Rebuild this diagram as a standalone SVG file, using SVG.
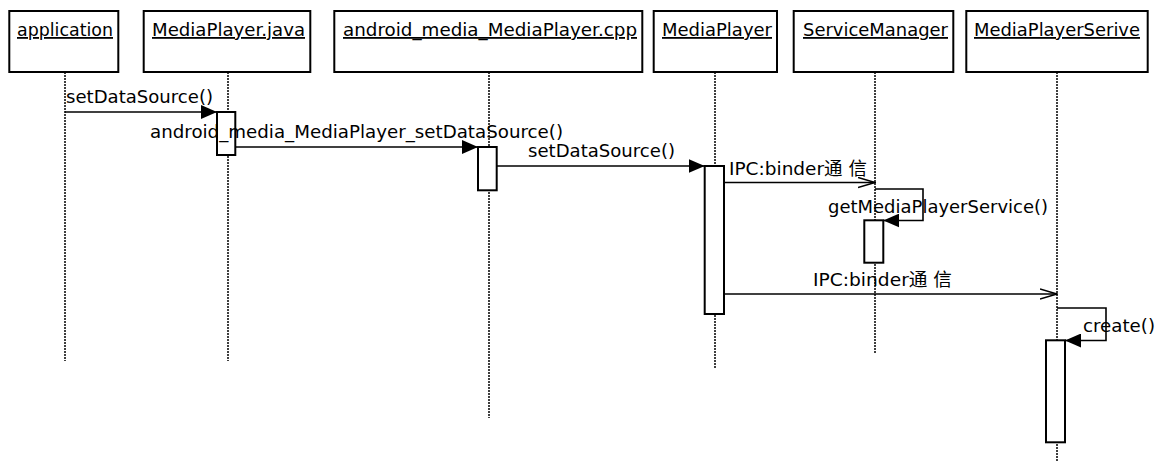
<svg xmlns="http://www.w3.org/2000/svg" width="1158" height="461" viewBox="0 0 1158 461">
<style>
text{font-family:"DejaVu Sans","Noto Sans CJK SC",sans-serif;font-size:18px;fill:#000}
.hdr{fill:#fff;stroke:#000;stroke-width:2}
.hdrt{text-decoration:underline}
.life{stroke:#000;stroke-width:1.5;stroke-dasharray:2 1;fill:none}
.act{fill:#fff;stroke:#000;stroke-width:2}
.msg{stroke:#000;stroke-width:1.6;fill:none}
</style>
<defs>
<marker id="filled" markerWidth="16" markerHeight="14" refX="16" refY="7" orient="auto" markerUnits="userSpaceOnUse">
<path d="M0,0 L16,7 L0,14 Z" fill="#000"/>
</marker>
<marker id="open" markerWidth="18" markerHeight="12" refX="17" refY="6" orient="auto" markerUnits="userSpaceOnUse">
<path d="M0,1 L17,6 L0,11" fill="none" stroke="#000" stroke-width="1.6"/>
</marker>
</defs>

<g id="lifelines">
<line class="life" x1="65" y1="72" x2="65" y2="361"/>
<line class="life" x1="228" y1="72" x2="228" y2="361"/>
<line class="life" x1="489" y1="72" x2="489" y2="418"/>
<line class="life" x1="715" y1="72" x2="715" y2="369"/>
<line class="life" x1="875" y1="72" x2="875" y2="353"/>
<line class="life" x1="1057" y1="72" x2="1057" y2="461"/>
</g>

<g id="application">
<rect class="hdr" x="9.3" y="11" width="109" height="61"/>
<text class="hdrt" x="17" y="36" textLength="96" lengthAdjust="spacingAndGlyphs">application</text>
</g>
<g id="MediaPlayerJava">
<rect class="hdr" x="143.7" y="11" width="166.6" height="61"/>
<text class="hdrt" x="152" y="36" textLength="153" lengthAdjust="spacingAndGlyphs">MediaPlayer.java</text>
<rect class="act" x="217" y="112" width="18.3" height="43"/>
</g>
<g id="androidMediaCpp">
<rect class="hdr" x="334.3" y="11" width="308" height="61"/>
<text class="hdrt" x="343" y="36" textLength="294" lengthAdjust="spacingAndGlyphs">android_media_MediaPlayer.cpp</text>
<rect class="act" x="478" y="147" width="18.7" height="43.3"/>
</g>
<g id="MediaPlayer">
<rect class="hdr" x="653.7" y="11" width="123.3" height="61"/>
<text class="hdrt" x="662" y="36" textLength="110" lengthAdjust="spacingAndGlyphs">MediaPlayer</text>
<rect class="act" x="704.7" y="166" width="19.3" height="148"/>
</g>
<g id="ServiceManager">
<rect class="hdr" x="793.7" y="11" width="159.6" height="61"/>
<text class="hdrt" x="803" y="36" textLength="145" lengthAdjust="spacingAndGlyphs">ServiceManager</text>
<rect class="act" x="864.3" y="220.3" width="19" height="42.4"/>
</g>
<g id="MediaPlayerSerive">
<rect class="hdr" x="966.3" y="11" width="181.4" height="61"/>
<text class="hdrt" x="974" y="36" textLength="166" lengthAdjust="spacingAndGlyphs">MediaPlayerSerive</text>
<rect class="act" x="1046" y="340.3" width="19" height="102"/>
</g>

<g id="connectors">
<line class="msg" x1="65" y1="112" x2="217" y2="112" marker-end="url(#filled)"/>
<line class="msg" x1="235.3" y1="147" x2="478" y2="147" marker-end="url(#filled)"/>
<line class="msg" x1="496.7" y1="166" x2="704.7" y2="166" marker-end="url(#filled)"/>
<line class="msg" x1="724" y1="182.5" x2="875" y2="182.5" marker-end="url(#open)"/>
<polyline class="msg" points="875,189 923,189 923,220.5 883.3,220.5" marker-end="url(#filled)"/>
<line class="msg" x1="724" y1="294" x2="1057" y2="294" marker-end="url(#open)"/>
<polyline class="msg" points="1057,308 1106,308 1106,340.5 1065,340.5" marker-end="url(#filled)"/>
</g>

<g id="labels">
<text x="66" y="103" textLength="147" lengthAdjust="spacingAndGlyphs">setDataSource()</text>
<text x="150" y="138" textLength="413" lengthAdjust="spacingAndGlyphs">android_media_MediaPlayer_setDataSource()</text>
<text x="528" y="157" textLength="147" lengthAdjust="spacingAndGlyphs">setDataSource()</text>
<text x="729" y="175" textLength="138" lengthAdjust="spacingAndGlyphs">IPC:binder通 信</text>
<text x="828" y="213" textLength="220" lengthAdjust="spacingAndGlyphs">getMediaPlayerService()</text>
<text x="813" y="286" textLength="139" lengthAdjust="spacingAndGlyphs">IPC:binder通 信</text>
<text x="1083" y="332" textLength="72" lengthAdjust="spacingAndGlyphs">create()</text>
</g>
</svg>
